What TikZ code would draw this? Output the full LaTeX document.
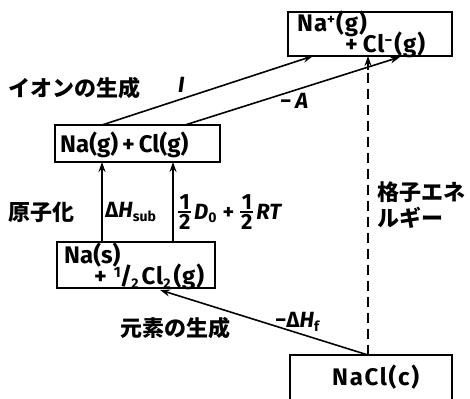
\documentclass[tikz,border=0pt]{standalone}
\usepackage{fontspec}
\setmainfont{Fira Sans}
\newfontfamily\jp{Noto Sans CJK JP}
\usetikzlibrary{arrows.meta,calc}
\newcommand\sbs[1]{\raisebox{-0.3ex}{\fontsize{14}{14}\selectfont #1}}
\newcommand\sps[1]{\raisebox{0.55ex}{\fontsize{15}{15}\selectfont #1}}
\newcommand\hlf{\raisebox{-10pt}{\vbox{\hbox to 13pt{\hss\fontsize{22}{22}\selectfont 1\hss}\kern1.5pt\hrule height 1.5pt\kern1.5pt\hbox to 13pt{\hss\fontsize{22}{22}\selectfont 2\hss}}}}
\begin{document}
\begin{tikzpicture}[x=1pt,y=-1pt,
  box/.style={draw,line width=1.6pt,inner sep=0pt},
  btxt/.style={inner sep=0pt,anchor=west,font=\fontsize{24}{24}\selectfont\bfseries},
  lbl/.style={inner sep=0pt,anchor=west,font=\fontsize{22}{22}\selectfont\bfseries},
  jlbl/.style={inner sep=0pt,anchor=west,font=\fontsize{22}{22}\selectfont\jp\bfseries},
  arr/.style={line width=1.6pt,-{Stealth[length=10pt,width=7pt]}},
  dashln/.style={line width=2.4pt,dash pattern=on 10pt off 6pt}]
\useasboundingbox (0,0) rectangle (470,398);
% boxes
\node[box,minimum width=164pt,minimum height=44pt] (top) at (370,34) {};
\node[btxt] (topa) at (297,24) {\addfontfeature{LetterSpace=4}Na\sps{+}\kern1pt(g)};
\node[btxt] (topb) at (345,45) {\addfontfeature{LetterSpace=4}+\kern5ptCl\sps{−}\kern2pt(g)};
\node[box,minimum width=165pt,minimum height=37pt] (gas) at (137.5,143.5) {};
\node[btxt] (gast) at (60,145) {Na(g)\,+\,Cl(g)};
\node[box,minimum width=158pt,minimum height=46pt] (sol) at (136,265) {};
\node[btxt] (sola) at (64,255) {Na(s)};
\node[btxt] (solb) at (94,277) {\addfontfeature{LetterSpace=4}+\kern7pt\sps{1}\kern-1pt/\kern-1pt\sbs{2}\kern3ptCl\sbs{2}\kern3pt(g)};
\node[box,minimum width=162pt,minimum height=56pt] (nacl) at (371,383) {};
\node[btxt] (naclt) at (332,377) {\addfontfeature{LetterSpace=7}NaCl(c)};
% coordinates
\coordinate (g1) at (102,125);
\coordinate (g2) at (185,125);
\coordinate (t1) at (313,56);
\coordinate (t2) at (400,57);
\coordinate (s1) at (102,242);
\coordinate (s2) at (173,242);
\coordinate (h1) at (102,162);
\coordinate (h2) at (173,162);
\coordinate (n1) at (368,355);
\coordinate (sf) at (160,290);
\coordinate (tl) at (368,56);
\coordinate (tm) at (368,70);
% arrows
\draw[arr] (g1) -- (t1);
\draw[arr] (g2) -- (t2);
\draw[arr] (s1) -- (h1);
\draw[arr] (s2) -- (h2);
\draw[arr] (n1) -- (sf);
\draw[dashln] (n1) -- (tm);
\draw[arr] (tm) -- (tl);
% labels
\node[jlbl] (ion) at (8,88) {イオンの生成};
\node[lbl] (li) at (178,85) {\itshape I};
\node[lbl] (la) at (280,101) {−\,\itshape A};
\node[jlbl] (gen) at (8,212) {原子化};
\node[lbl] (lsub) at (105,212) {Δ\textit{H}\sbs{sub}};
\node[lbl] (ld) at (178,212) {\hlf\kern3pt\textit{D}\sbs{0}\;+\;\hlf\kern3pt\textit{RT}};
\node[jlbl] (elem) at (120,328) {元素の生成};
\node[lbl] (lhf) at (275,322) {−Δ\textit{H}\sbs{f}};
\node[jlbl] (lat1) at (377,192) {格子エネ};
\node[jlbl] (lat2) at (377,218) {ルギー};
\end{tikzpicture}
\end{document}
